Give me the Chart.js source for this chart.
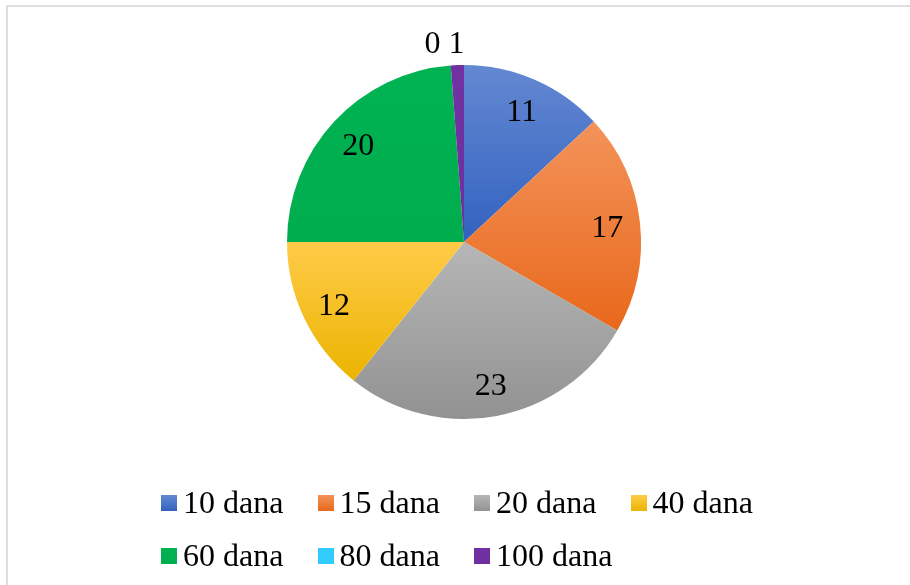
<!DOCTYPE html>
<html>
<head>
<meta charset="utf-8">
<script src="https://cdn.jsdelivr.net/npm/chart.js@4.4.1/dist/chart.umd.min.js"></script>
<style>
    html, body { margin: 0; padding: 0; background: #fff; }
    #wrap { position: relative; width: 910px; height: 585px; overflow: hidden; }
    #frame {
        position: absolute; left: 6px; top: 5px; width: 1000px; height: 700px;
        border-top: 2px solid #dedede; border-left: 2px solid #dedede;
    }
    #chart-box { position: absolute; left: 0; top: 0; width: 910px; height: 585px; }
    #legend {
        position: absolute; left: 161px; top: 476px;
        display: grid; grid-template-columns: repeat(4, 156.5px); grid-auto-rows: 53px;
        font: 32px "Liberation Serif", "Times New Roman", serif; color: #000;
    }
    .item { display: flex; align-items: center; white-space: nowrap; }
    .swatch { width: 16px; height: 16px; margin-right: 6px; flex: none; }
</style>
</head>
<body>
<div id="wrap">
    <div id="frame"></div>
    <div id="chart-box"><canvas id="pie-chart"></canvas></div>
    <div id="legend"></div>
</div>

<script>

const categories = ['10 dana', '15 dana', '20 dana', '40 dana', '60 dana', '80 dana', '100 dana']
const counts = [11, 17, 23, 12, 20, 0, 1]

// each slice fades from a lighter top to a darker bottom
const fillTop = ['#6488d2', '#f3935a', '#b6b6b6', '#ffcb48', '#00b352', '#33ccff', '#7131a2']
const fillBottom = ['#3262bf', '#e8681b', '#929292', '#ebb400', '#00ad4e', '#33ccff', '#6e2f9e']

function sliceFill(context) {
    const chart = context.chart
    const area = chart.chartArea
    const i = context.dataIndex
    if (i === undefined) return fillTop[0]
    if (!area) return fillTop[i]

    const data = chart.data.datasets[0].data
    const total = data.reduce((a, b) => a + b, 0)
    const radius = chart.data.datasets[0].radius
    const cy = (area.top + area.bottom) / 2

    let before = 0
    for (let k = 0; k < i; k++) before += data[k]
    const a0 = before / total * Math.PI * 2 - Math.PI / 2
    const a1 = (before + data[i]) / total * Math.PI * 2 - Math.PI / 2

    // vertical extent of the wedge: centre, both rim ends, plus the rim's top/bottom if swept
    const ys = [cy, cy + radius * Math.sin(a0), cy + radius * Math.sin(a1)]
    const sweeps = (ang) => {
        for (const a of [ang, ang + Math.PI * 2]) {
            if (a >= a0 && a <= a1) return true
        }
        return false
    }
    if (sweeps(-Math.PI / 2)) ys.push(cy - radius)
    if (sweeps(Math.PI / 2)) ys.push(cy + radius)
    const top = Math.min(...ys)
    let bottom = Math.max(...ys)
    if (bottom - top < 1) bottom = top + 1

    const g = chart.ctx.createLinearGradient(0, top, 0, bottom)
    g.addColorStop(0, fillTop[i])
    g.addColorStop(1, fillBottom[i])
    return g
}

const valueLabels = {
    id: 'valueLabels',
    afterDatasetsDraw(chart) {
        const meta = chart.getDatasetMeta(0)
        const data = chart.data.datasets[0].data
        const total = data.reduce((a, b) => a + b, 0)
        const ctx = chart.ctx
        ctx.save()
        ctx.font = '32px "Liberation Serif"'
        ctx.fillStyle = '#000'
        ctx.textBaseline = 'alphabetic'
        ctx.textAlign = 'center'

        const outside = []
        meta.data.forEach((arc, i) => {
            const {x, y, startAngle, endAngle, outerRadius} =
                arc.getProps(['x', 'y', 'startAngle', 'endAngle', 'outerRadius'], true)
            const mid = (startAngle + endAngle) / 2
            const text = String(data[i])
            if (data[i] / total >= 0.05) {
                const r = outerRadius * 0.815
                ctx.fillText(text, x + r * Math.cos(mid), y + r * Math.sin(mid) + 10.8)
            } else {
                const r = outerRadius + 23
                outside.push({
                    text: text,
                    x: x + r * Math.cos(mid),
                    y: y + r * Math.sin(mid),
                    w: ctx.measureText(text).width
                })
            }
        })

        // thin slices get their value just past the rim, pushed left when they collide
        const gap = ctx.measureText(' ').width
        let limit = Infinity
        for (let k = outside.length - 1; k >= 0; k--) {
            const lab = outside[k]
            const cx = Math.min(lab.x, limit - lab.w / 2)
            ctx.fillText(lab.text, cx, lab.y + 10.8)
            limit = cx - lab.w / 2 - gap
        }
        ctx.restore()
    }
}

function buildLegend() {
    const legend = document.getElementById('legend')
    categories.forEach((name, i) => {
        const item = document.createElement('div')
        item.className = 'item'
        const swatch = document.createElement('span')
        swatch.className = 'swatch'
        swatch.style.background = 'linear-gradient(' + fillTop[i] + ', ' + fillBottom[i] + ')'
        const label = document.createElement('span')
        label.textContent = name
        item.appendChild(swatch)
        item.appendChild(label)
        legend.appendChild(item)
    })
}

document.addEventListener("DOMContentLoaded", function () {

    const pieChart = document.getElementById("pie-chart")

    new Chart(pieChart, {
        type: 'pie',
        data: {
            labels: categories,
            datasets: [{
                data: counts,
                radius: 177,
                borderWidth: 0,
                backgroundColor: sliceFill
            }]
        },
        options: {
            responsive: true,
            maintainAspectRatio: false,
            animation: false,
            layout: {
                padding: { left: 18, right: 0, top: 0, bottom: 101 }
            },
            plugins: {
                legend: { display: false },
                tooltip: { enabled: false }
            }
        },
        plugins: [valueLabels]
    })

    buildLegend()

})
</script>
</body>
</html>
